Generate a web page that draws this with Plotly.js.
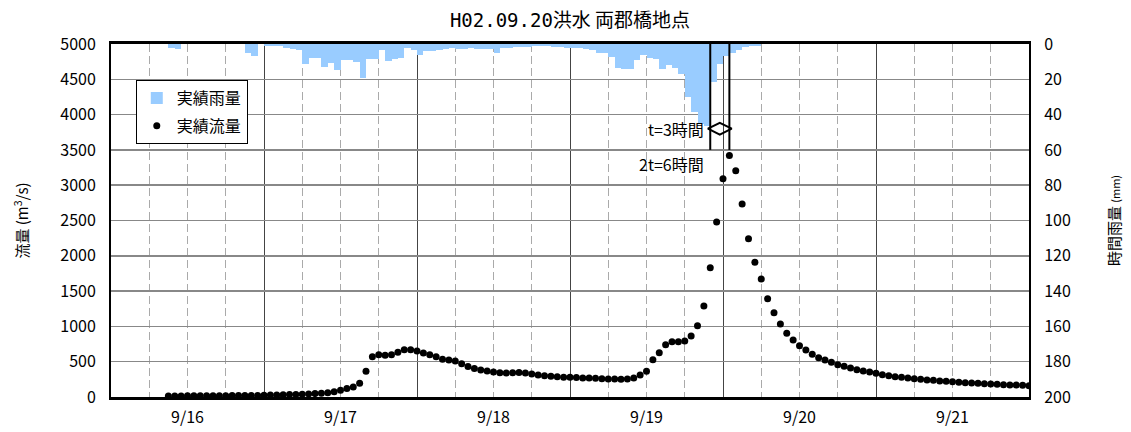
<!DOCTYPE html>
<html>
<head>
<meta charset="utf-8">
<script src="https://cdn.plot.ly/plotly-3.0.1.min.js"></script>
<style>
  html, body { margin: 0; padding: 0; background: #fff; }
  #chart { width: 1131px; height: 432px; }
</style>
</head>
<body>
<div id="chart"></div>
<script>
// Hourly hydrograph, 1990-09-16 00:00 .. 1990-09-22 00:00
const YEAR_MONTH = '1990-09';
const FIRST_DAY = 16;

// Hourly rainfall (mm), hour 0 = 9/16 00:00-01:00
const rainHourly = [
  0, 0, 0, 0, 0, 0, 0, 0, 0, 2,
  3, 0, 0, 0, 0, 0, 0, 0, 0, 0,
  0, 5, 7, 0, 1, 1, 1, 2, 3, 3.5,
  11.5, 8, 8, 13, 11, 14.5, 9.3, 9.3, 10, 19,
  8.5, 8.7, 3.5, 9.5, 8.5, 8, 2.5, 3.2, 6.5, 3.7,
  3.8, 3.4, 2.8, 2, 3, 2.7, 2.5, 2.7, 2.7, 3,
  5.3, 2.4, 2.2, 1.9, 1.6, 1.8, 1.1, 1.1, 1.1, 1.5,
  1.5, 2, 2.5, 2.5, 3, 3.2, 5.3, 5.3, 7.2, 13.8,
  14.4, 14.4, 9, 6.2, 7.8, 8.4, 14, 12, 13.8, 17,
  30.3, 38.3, 45.5, 46.5, 21.5, 11.6, 6.8, 5.3, 3.4, 1.9,
  1.1, 1.1
];

// Hourly discharge (m3/s), first value at 9/16 09:00
const FLOW_START_HOUR = 9;
const flowHourly = [
  15, 15, 15, 16, 16, 17, 17, 18, 18, 19,
  20, 20, 21, 22, 23, 25, 27, 29, 31, 34,
  37, 40, 44, 48, 53, 60, 75, 95, 120, 140,
  195, 365, 570, 600, 590, 600, 635, 670, 670, 650,
  625, 600, 570, 535, 525, 510, 470, 432, 402, 383,
  368, 354, 345, 340, 345, 348, 340, 326, 312, 302,
  293, 288, 280, 278, 276, 270, 268, 264, 260, 256,
  255, 250, 255, 270, 312, 363, 529, 628, 741, 784,
  784, 793, 864, 1010, 1290, 1830, 2480, 3090, 3420, 3205,
  2734, 2240, 1910, 1670, 1390, 1194, 1034, 902, 807, 727,
  666, 604, 557, 524, 491, 458, 434, 411, 387, 368,
  354, 335, 316, 302, 288, 278, 269, 260, 250, 241,
  236, 227, 222, 217, 208, 203, 198, 194, 189, 184,
  179, 175, 170, 170, 165, 161
];

// Lag time between the end of the rainfall peak and the discharge peak
const LAG_HOURS = 3;
const lagLabel = 't=3時間';
const doubleLagLabel = '2t=6時間';

const titleCode = 'H02.09.20';
const titleName = '洪水 両郡橋地点';
const flowAxisTitle = '流量 (m<sup>3</sup>/s)';
const rainAxisTitle = '時間雨量 <span style="font-size:11px">(mm)</span>';
const rainName = '実績雨量';
const flowName = '実績流量';

function pad(n) { return (n < 10 ? '0' : '') + n; }
function hourToDate(h) {
  const day = FIRST_DAY + Math.floor(h / 24);
  const hh = h % 24;
  return YEAR_MONTH + '-' + pad(day) + ' ' + pad(hh) + ':00';
}

const rainX = rainHourly.map((_, i) => hourToDate(i));
const flowX = flowHourly.map((_, i) => hourToDate(FLOW_START_HOUR + i));

// discharge peak and the lag-marker positions derived from it
let peakIdx = 0;
flowHourly.forEach((v, i) => { if (v > flowHourly[peakIdx]) peakIdx = i; });
const peakHour = FLOW_START_HOUR + peakIdx;
const lagStartHour = peakHour - LAG_HOURS;
const HOUR_MS = 3600 * 1000;

const FONT = '"Noto Sans CJK JP", "Noto Sans", sans-serif';

const rainTrace = {
  type: 'bar',
  name: rainName,
  x: rainX,
  y: rainHourly,
  offset: 0,
  width: HOUR_MS,
  xaxis: 'x',
  yaxis: 'y2',
  marker: { color: '#99ccff', line: { width: 0 } },
  legendgroup: 'rain',
  hoverinfo: 'skip'
};

const flowTrace = {
  type: 'scatter',
  mode: 'markers',
  name: flowName,
  x: flowX,
  y: flowHourly,
  xaxis: 'x',
  yaxis: 'y',
  marker: { color: '#000', size: 7 },
  legendgroup: 'flow',
  hoverinfo: 'skip'
};

// double-headed marker between the two lag lines
const lagMid = new Date(Date.UTC(1990, 8, FIRST_DAY) + (lagStartHour + LAG_HOURS / 2) * HOUR_MS)
  .toISOString().slice(0, 16).replace('T', ' ');
const arrowTrace = {
  type: 'scatter',
  mode: 'markers',
  x: [lagMid],
  y: [3800],
  xaxis: 'x',
  yaxis: 'y',
  marker: { symbol: 'diamond-wide-open', size: 17, color: '#000', line: { width: 2, color: '#000' } },
  showlegend: false,
  hoverinfo: 'skip'
};

const layout = {
  width: 1131,
  height: 432,
  margin: { l: 111, r: 102, t: 44, b: 35 },
  paper_bgcolor: '#fff',
  plot_bgcolor: '#fff',
  font: { family: FONT, size: 16, color: '#000' },
  title: {
    text: '<span style="font-family:DejaVu Sans Mono">' + titleCode + '</span>' + titleName,
    font: { family: FONT, size: 19, color: '#000' },
    x: 0.5, xanchor: 'center', xref: 'paper',
    y: 1 - 20 / 432, yref: 'container', yanchor: 'middle'
  },
  showlegend: true,
  legend: {
    x: 0.027, y: 0.898, xanchor: 'left', yanchor: 'top',
    bgcolor: '#fff', bordercolor: '#000', borderwidth: 1,
    font: { family: FONT, size: 16, color: '#000' },
    traceorder: 'grouped', tracegroupgap: 4,
    itemwidth: 30
  },
  bargap: 0,
  xaxis: {
    type: 'date',
    range: [hourToDate(0), hourToDate(144)],
    tick0: hourToDate(0),
    dtick: 24 * HOUR_MS,
    ticklabelmode: 'period',
    tickformat: '%-m/%-d',
    ticks: '',
    ticklabelstandoff: 4,
    showgrid: true,
    gridcolor: '#444',
    gridwidth: 1,
    minor: { dtick: 6 * HOUR_MS, showgrid: true, gridcolor: '#aaa', gridwidth: 1, griddash: '8px,4px', ticks: '' },
    showline: true, linecolor: '#000', linewidth: 3, mirror: true,
    tickfont: { family: FONT, size: 16, color: '#000' },
    zeroline: false,
    fixedrange: true
  },
  yaxis: {
    range: [0, 5000],
    dtick: 500,
    ticks: '',
    ticklabelstandoff: 10,
    showgrid: true,
    gridcolor: '#888',
    gridwidth: 1.5,
    showline: true, linecolor: '#000', linewidth: 2, mirror: true,
    zeroline: false,
    tickfont: { family: FONT, size: 16, color: '#000' },
    title: { text: flowAxisTitle, font: { family: FONT, size: 15, color: '#000' }, standoff: 28 },
    fixedrange: true
  },
  yaxis2: {
    overlaying: 'y',
    side: 'right',
    range: [200, 0],
    dtick: 20,
    ticks: '',
    ticklabelstandoff: 10,
    showgrid: false,
    showline: true, linecolor: '#000', linewidth: 2,
    zeroline: false,
    tickfont: { family: FONT, size: 16, color: '#000' },
    title: { text: rainAxisTitle, font: { family: FONT, size: 15, color: '#000' }, standoff: 40 },
    fixedrange: true
  },
  shapes: [lagStartHour, peakHour].map(h => ({
    type: 'line', xref: 'x', yref: 'y',
    x0: hourToDate(h), x1: hourToDate(h), y0: 3500, y1: 5000,
    line: { color: '#000', width: 2 }
  })),
  annotations: [
    {
      x: hourToDate(lagStartHour), y: 3800, xref: 'x', yref: 'y',
      text: lagLabel, showarrow: false, xanchor: 'right', yanchor: 'middle', xshift: -4,
      font: { family: FONT, size: 16, color: '#000' }
    },
    {
      x: hourToDate(lagStartHour), y: 3300, xref: 'x', yref: 'y',
      text: doubleLagLabel, showarrow: false, xanchor: 'right', yanchor: 'middle', xshift: -4,
      font: { family: FONT, size: 16, color: '#000' }
    }
  ]
};

Plotly.newPlot('chart', [rainTrace, flowTrace, arrowTrace], layout, { displayModeBar: false, staticPlot: true });
</script>
</body>
</html>
